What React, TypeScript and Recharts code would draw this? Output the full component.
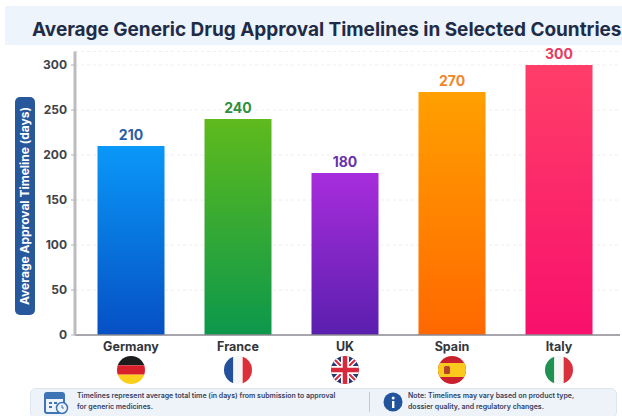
import { BarChart, Bar, XAxis, YAxis, CartesianGrid, Cell } from "recharts";

const countries = ["Germany", "France", "UK", "Spain", "Italy"];
const approvalDays = [210, 240, 180, 270, 300];
const yTicks = [0, 50, 100, 150, 200, 250, 300];
const labelColors = ["#2a5ea8", "#2f8f3c", "#6a32a8", "#f0872a", "#e83a62"];
const gradientStops = [
  ["#0a98f8", "#0650c4"],
  ["#5fba1c", "#0c984c"],
  ["#a82ddc", "#5a1fae"],
  ["#ffa000", "#ff6800"],
  ["#ff3e68", "#f8106c"],
];

const data = countries.map((name, i) => ({ name, days: approvalDays[i] }));

function Flag({ name, cx, cy }: any) {
  const r = 14;
  const x = cx - r;
  const y = cy - r;
  const d = r * 2;
  let body: any = null;

  if (name === "Germany") {
    body = (
      <>
        <rect x={x} y={y} width={d} height={d / 3} fill="#1c1c1c" />
        <rect x={x} y={y + d / 3} width={d} height={d / 3} fill="#d8202a" />
        <rect x={x} y={y + (2 * d) / 3} width={d} height={d / 3} fill="#fccf1c" />
      </>
    );
  } else if (name === "France") {
    body = (
      <>
        <rect x={x} y={y} width={d / 3} height={d} fill="#24509e" />
        <rect x={x + d / 3} y={y} width={d / 3} height={d} fill="#f6f6f6" />
        <rect x={x + (2 * d) / 3} y={y} width={d / 3} height={d} fill="#dc2f3a" />
      </>
    );
  } else if (name === "UK") {
    body = (
      <>
        <rect x={x} y={y} width={d} height={d} fill="#27386f" />
        <path d={`M${x} ${y}L${x + d} ${y + d}M${x + d} ${y}L${x} ${y + d}`} stroke="#fff" strokeWidth={5} />
        <path d={`M${x} ${y}L${x + d} ${y + d}M${x + d} ${y}L${x} ${y + d}`} stroke="#d8283c" strokeWidth={2} />
        <path d={`M${cx} ${y}V${y + d}M${x} ${cy}H${x + d}`} stroke="#fff" strokeWidth={8} />
        <path d={`M${cx} ${y}V${y + d}M${x} ${cy}H${x + d}`} stroke="#d8283c" strokeWidth={4.5} />
      </>
    );
  } else if (name === "Spain") {
    body = (
      <>
        <rect x={x} y={y} width={d} height={d} fill="#c8202c" />
        <rect x={x} y={y + d / 4} width={d} height={d / 2} fill="#fbc81e" />
        <rect x={cx - 8} y={cy - 4} width={6} height={8} rx={1.5} fill="#b5452a" />
      </>
    );
  } else {
    body = (
      <>
        <rect x={x} y={y} width={d / 3} height={d} fill="#1f9150" />
        <rect x={x + d / 3} y={y} width={d / 3} height={d} fill="#f6f6f6" />
        <rect x={x + (2 * d) / 3} y={y} width={d / 3} height={d} fill="#d8303c" />
      </>
    );
  }

  return (
    <g>
      <clipPath id={`flag-${name}`}>
        <circle cx={cx} cy={cy} r={r} />
      </clipPath>
      <g clipPath={`url(#flag-${name})`}>{body}</g>
    </g>
  );
}

// country name with its round flag underneath
function CountryTick({ x, y, payload }: any) {
  return (
    <g>
      <text
        x={x}
        y={y + 8}
        textAnchor="middle"
        fontFamily="Inter"
        fontWeight={700}
        fontSize={12.5}
        fill="#33363d"
      >
        {payload.value}
      </text>
      <Flag name={payload.value} cx={x} cy={y + 27} />
    </g>
  );
}

function ValueLabel({ x, y, width, value, index }: any) {
  return (
    <text
      x={x + width / 2}
      y={y - 6}
      textAnchor="middle"
      fontFamily="Inter"
      fontWeight={700}
      fontSize={14}
      fill={labelColors[index]}
    >
      {value}
    </text>
  );
}

export default function App() {
  return (
    <div
      style={{
        position: "absolute",
        left: 0,
        top: 0,
        width: 622,
        height: 416,
        background: "#ffffff",
        overflow: "hidden",
        fontFamily: "Inter",
      }}
    >
      <div
        style={{
          position: "absolute",
          left: 5,
          top: 6,
          width: 617,
          height: 39,
          background: "#eef4fb",
        }}
      />
      <div
        style={{
          position: "absolute",
          left: 32,
          top: 18,
          fontSize: 19,
          fontWeight: 700,
          color: "#1f2c48",
          whiteSpace: "nowrap",
          letterSpacing: -0.03,
        }}
      >
        Average Generic Drug Approval Timelines in Selected Countries
      </div>

      <div style={{ position: "absolute", left: 0, top: 0 }}>
        <BarChart
          width={622}
          height={416}
          data={data}
          margin={{ top: 51.5, right: 2, bottom: 0, left: 0 }}
          barCategoryGap={20}
        >
          <defs>
            {gradientStops.map((stops, i) => (
              <linearGradient key={i} id={`bar-${i}`} x1="0" y1="0" x2="0" y2="1">
                <stop offset="0%" stopColor={stops[0]} />
                <stop offset="100%" stopColor={stops[1]} />
              </linearGradient>
            ))}
          </defs>
          <CartesianGrid vertical={false} stroke="#eeeeee" strokeDasharray="3 3" />
          <XAxis
            dataKey="name"
            height={81}
            interval={0}
            padding={{ left: 2.5, right: 7.5 }}
            axisLine={{ stroke: "#8a8a92", strokeWidth: 1.5 }}
            tickLine={false}
            tick={<CountryTick />}
          />
          <YAxis
            width={75}
            domain={[0, 315]}
            ticks={yTicks}
            interval={0}
            axisLine={{ stroke: "#bcbcc0", strokeWidth: 3 }}
            tickLine={{ stroke: "#b4b4b8" }}
            tickSize={4}
            tickMargin={4}
            tick={{ fontFamily: "Inter", fontWeight: 700, fontSize: 12, fill: "#3f4248" }}
          />
          <Bar dataKey="days" isAnimationActive={false} label={<ValueLabel />}>
            {data.map((_: any, index: number) => (
              <Cell key={index} fill={`url(#bar-${index})`} />
            ))}
          </Bar>
        </BarChart>
      </div>

      {/* rotated y axis title pill */}
      <div
        style={{
          position: "absolute",
          left: 25 - 109,
          top: 206 - 10,
          width: 218,
          height: 20,
          borderRadius: 5,
          background: "#28589c",
          color: "#ffffff",
          fontSize: 12,
          fontWeight: 700,
          lineHeight: "20px",
          textAlign: "center",
          whiteSpace: "nowrap",
          transform: "rotate(-90deg)",
        }}
      >
        Average Approval Timeline (days)
      </div>

      {/* footnote strip */}
      <div
        style={{
          position: "absolute",
          left: 30,
          top: 388,
          width: 587,
          height: 30,
          borderRadius: 6,
          background: "#eef3fa",
          border: "1px solid #dde5f0",
          boxSizing: "border-box",
        }}
      />
      <svg style={{ position: "absolute", left: 44, top: 391 }} width={26} height={24}>
        <rect x={1} y={2} width={19} height={20} rx={2} fill="#eef3fa" stroke="#3d74b4" strokeWidth={2} />
        <rect x={1} y={2} width={19} height={6} fill="#3d74b4" />
        <path d="M5 12h3M10 12h3M5 16h3" stroke="#3d74b4" strokeWidth={2} />
        <circle cx={18} cy={17} r={5.5} fill="#eef3fa" stroke="#3d74b4" strokeWidth={1.5} />
        <path d="M18 14v3h2" stroke="#3d74b4" fill="none" />
      </svg>
      <div
        style={{
          position: "absolute",
          left: 77,
          top: 390,
          width: 285,
          fontSize: 7,
          lineHeight: "11px",
          fontWeight: 600,
          color: "#35415e",
          whiteSpace: "nowrap",
        }}
      >
        Timelines represent average total time (in days) from submission to approval
        <br />
        for generic medicines.
      </div>
      <div
        style={{
          position: "absolute",
          left: 369,
          top: 392,
          width: 1,
          height: 20,
          background: "#b9cbe2",
        }}
      />
      <svg style={{ position: "absolute", left: 383, top: 392 }} width={20} height={20}>
        <circle cx={10} cy={10} r={9.5} fill="#22549e" />
        <rect x={9} y={9} width={2.4} height={7} fill="#ffffff" />
        <circle cx={10.2} cy={6} r={1.5} fill="#ffffff" />
      </svg>
      <div
        style={{
          position: "absolute",
          left: 408,
          top: 390,
          width: 205,
          fontSize: 7,
          lineHeight: "11px",
          fontWeight: 600,
          color: "#35415e",
          whiteSpace: "nowrap",
        }}
      >
        Note: Timelines may vary based on product type,
        <br />
        dossier quality, and regulatory changes.
      </div>
    </div>
  );
}
